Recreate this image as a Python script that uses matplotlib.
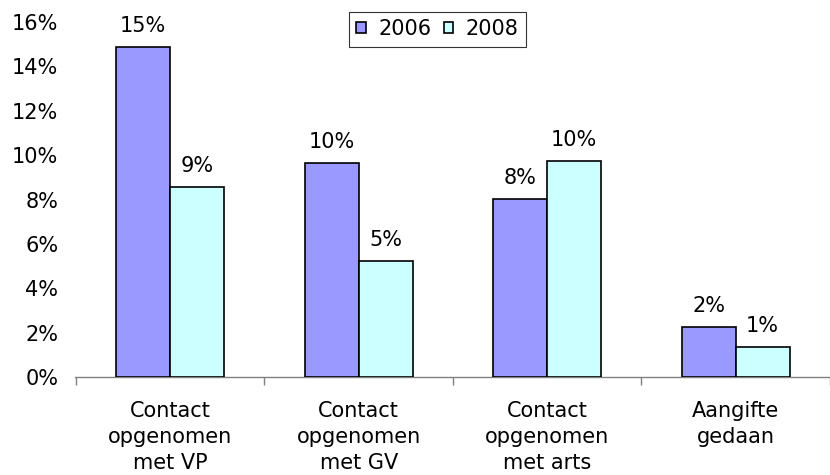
import matplotlib
matplotlib.use("Agg")
import matplotlib.pyplot as plt
import numpy as np
from matplotlib.patches import Patch

categories = ["Contact\nopgenomen\nmet VP", "Contact\nopgenomen\nmet GV",
              "Contact\nopgenomen\nmet arts", "Aangifte\ngedaan"]
series_names = ["2006", "2008"]
values_2006 = [14.87, 9.64, 8.02, 2.25]
values_2008 = [8.56, 5.23, 9.73, 1.35]
y_ticks = [0, 2, 4, 6, 8, 10, 12, 14, 16]
colors = ["#9999FF", "#CCFFFF"]

plt.rcParams['font.family'] = ['DejaVu Sans']
fs = 15

fig = plt.figure(figsize=(8.3, 4.75), dpi=100)
ax = fig.add_axes([75/830, (475-377)/475, 755/830, 355/475])

x = np.arange(len(categories))
bw = 1/3.5
for i, (vals, name) in enumerate(zip([values_2006, values_2008], series_names)):
    pos = x + (i - 0.5) * bw
    bars = ax.bar(pos, vals, width=bw, color=colors[i], edgecolor="black",
                  linewidth=1.2, label=name, zorder=3)
    for b, v in zip(bars, vals):
        ax.annotate(f"{round(v)}%", (b.get_x() + b.get_width()/2, v),
                    xytext=(0, 8), textcoords="offset points",
                    ha="center", va="bottom", fontsize=fs)

ax.set_xlim(-0.5 - 1/190.5, 3.5 - 8/190.5)
ax.set_ylim(0, 16)
ax.set_yticks(y_ticks)
ax.set_yticklabels([f"{t}%" for t in y_ticks], fontsize=fs)
ax.tick_params(axis="y", length=0, pad=12)

ax.set_xticks(x)
ax.set_xticklabels(categories, fontsize=fs, linespacing=1.4)
ax.set_xticks(np.arange(-0.5, 3.6, 1), minor=True)
ax.tick_params(axis="x", which="major", length=0, pad=17)
ax.tick_params(axis="x", which="minor", length=6, color="#808080", width=1)

for s in ["top", "right", "left"]:
    ax.spines[s].set_visible(False)
ax.spines["bottom"].set_color("#808080")
ax.spines["bottom"].set_linewidth(1)

handles = [Patch(facecolor=c, edgecolor="black", linewidth=1.2) for c in colors]
leg = ax.legend(handles, series_names, ncol=2, loc="upper left",
                bbox_to_anchor=((349-75)/755, 1 + 10/355), fontsize=fs,
                frameon=True, fancybox=False, handlelength=0.45, handleheight=0.45,
                handletextpad=0.6, columnspacing=0.6, borderpad=0.35,
                borderaxespad=0)
leg.get_frame().set_edgecolor("black")
leg.get_frame().set_linewidth(0.8)

fig.savefig("out.png", dpi=100)
